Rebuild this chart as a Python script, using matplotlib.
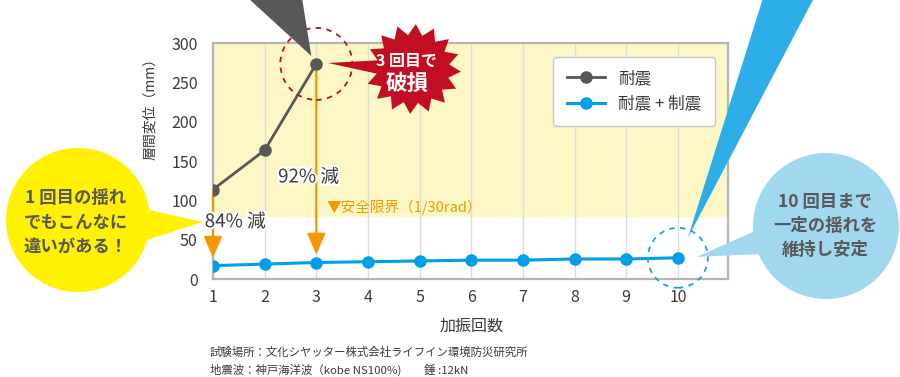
import numpy as np
import matplotlib.pyplot as plt
from matplotlib.patches import Polygon, Ellipse
import matplotlib.patheffects as pe

plt.rcParams['font.family'] = ['Noto Sans CJK JP', 'DejaVu Sans']

# データ
kaishin = [1, 2, 3, 4, 5, 6, 7, 8, 9, 10]
taishin_x = [1, 2, 3]
taishin = [114, 164, 274]
seishin = [17, 19, 21, 22, 23, 24, 24, 25.5, 25.5, 27]
anzen_genkai = 80
y_ticks = [0, 50, 100, 150, 200, 250, 300]

TXT = '#3e3a39'
GRAY = '#595757'
BLUE = '#009fe8'
ORANGE = '#f39800'
RED = '#c30d23'

W, H = 900, 377
fig = plt.figure(figsize=(9, 3.77), dpi=100)
ax = fig.add_axes([213 / W, 1 - 279 / H, 515 / W, 235.5 / H])


def fpx(x, y):
    # 上左原点のピクセル -> figure座標
    return (x / W, 1 - y / H)


def dpx(x, y):
    # データ座標 -> 上左原点のピクセル
    dx, dy = ax.transData.transform((x, y))
    return dx, H - dy


ax.set_xlim(1, 10.97)
ax.set_ylim(0, 300)
ax.axhspan(anzen_genkai, 300, color='#fdf7c6', zorder=0)
for k in kaishin:
    ax.axvline(k, color='#dcdcdc', lw=1, zorder=1)

ax.plot(taishin_x, taishin, color=GRAY, lw=2, marker='o', ms=8, label='耐震', zorder=4)
ax.plot(kaishin, seishin, color=BLUE, lw=2.2, marker='o', ms=8, label='耐震 + 制震', zorder=4)

# 減少の矢印
for i in [0, 2]:
    ax.annotate('', xy=(kaishin[i], seishin[i] + 10), xytext=(kaishin[i], taishin[i]),
                arrowprops=dict(arrowstyle='-|>,head_length=0.65,head_width=0.28',
                                mutation_scale=20, color=ORANGE, lw=1.6,
                                shrinkA=0, shrinkB=0), zorder=3)

stroke = [pe.withStroke(linewidth=3, foreground='white')]
fig.text(0.84, 73, '84% 減', transform=ax.transData, fontsize=13.5, color=TXT,
         va='center', ha='left', path_effects=stroke, zorder=6)
fig.text(2.26, 130, '92% 減', transform=ax.transData, fontsize=13.5, color=TXT,
         va='center', ha='left', path_effects=stroke, zorder=6)
ax.text(3.2, 92, '▼安全限界（1/30rad）', fontsize=10.5, color=ORANGE, va='center', ha='left')

ax.set_xticks(kaishin)
ax.set_yticks(y_ticks)
ax.tick_params(length=0, labelsize=11.5, labelcolor=TXT)
ax.tick_params(axis='x', pad=7)
ax.tick_params(axis='y', pad=11)
for s in ax.spines.values():
    s.set_color('#b5b5b5')
    s.set_linewidth(1.6)

leg = ax.legend(loc='upper right', bbox_to_anchor=fpx(715, 57), bbox_transform=fig.transFigure,
                borderaxespad=0, fontsize=12, handlelength=2.3, labelspacing=0.5,
                borderpad=0.8, fancybox=True, framealpha=1, edgecolor='#c9c9c9')
for t in leg.get_texts():
    t.set_color(TXT)

fig.text(*fpx(150, 105), '層間変位（mm）', rotation=90, fontsize=10, color=TXT, ha='center', va='center')
fig.text(*fpx(472, 326), '加振回数', fontsize=11.5, color=TXT, ha='center', va='center')
fig.text(*fpx(210, 352), '試験場所：文化シヤッター株式会社ライフイン環境防災研究所', fontsize=8.2, color=TXT, va='center')
fig.text(*fpx(210, 370), '地震波：神戸海洋波（kobe NS100%)　　錘 :12kN', fontsize=8.2, color=TXT, va='center')


def poly(pts, color, z=2):
    p = Polygon([fpx(x, y) for x, y in pts], closed=True, transform=fig.transFigure,
                facecolor=color, edgecolor='none', zorder=z)
    fig.patches.append(p)


def circle(cx, cy, r, color, dashed=False, z=2):
    fx, fy = fpx(cx, cy)
    if dashed:
        e = Ellipse((fx, fy), 2 * r / W, 2 * r / H, transform=fig.transFigure, facecolor='none',
                    edgecolor=color, lw=1.3, linestyle=(0, (3, 3)), zorder=z)
    else:
        e = Ellipse((fx, fy), 2 * r / W, 2 * r / H, transform=fig.transFigure, facecolor=color,
                    edgecolor='none', zorder=z)
    fig.patches.append(e)


# 3回目で破損
p3x, p3y = dpx(taishin_x[2], taishin[2])
circle(p3x, p3y, 36, RED, dashed=True)
poly([(248, -2), (302, -2), (p3x - 5, p3y - 8)], GRAY)

cx, cy = 413, 69
n = 16
pts = []
for i in range(2 * n):
    a = np.pi - 0.06 + i * np.pi / n
    if i == 0:
        pts.append((328, 63))
        continue
    r = 1.0 if i % 2 == 0 else 0.76
    pts.append((cx + 48 * r * np.cos(a), cy - 45 * r * np.sin(a)))
poly(pts, RED)
fig.text(*fpx(406, 61), '3 回目で', fontsize=11.5, color='white', fontweight='bold', ha='center', va='center', zorder=5)
fig.text(*fpx(407, 83), '破損', fontsize=15.5, color='white', fontweight='bold', ha='center', va='center', zorder=5)

# 左の吹き出し
circle(78, 220, 72, '#fff100')
poly([(140, 208), (203, 222), (140, 242)], '#fff100')
for i, line in enumerate(['1 回目の揺れ', 'でもこんなに', '違いがある！']):
    fig.text(*fpx(76, 198 + 24.5 * i), line, fontsize=12.5, color=GRAY, fontweight='bold',
             ha='center', va='center', zorder=5)

# 右の吹き出し
p10x, p10y = dpx(kaishin[9], seishin[9])
circle(p10x, p10y, 30, '#1e9fe0', dashed=True)
circle(826, 226, 73, '#a0d8ef')
poly([(762, 228), (p10x + 19, p10y - 1), (762, 254)], '#a0d8ef')
poly([(763, -2), (814, -2), (p10x + 10, p10y - 20)], '#2eaee8')
for i, line in enumerate(['10 回目まで', '一定の揺れを', '維持し安定']):
    fig.text(*fpx(825, 202 + 24 * i), line, fontsize=12.5, color=GRAY, fontweight='bold',
             ha='center', va='center', zorder=5)

fig.savefig('out.png', dpi=100)
